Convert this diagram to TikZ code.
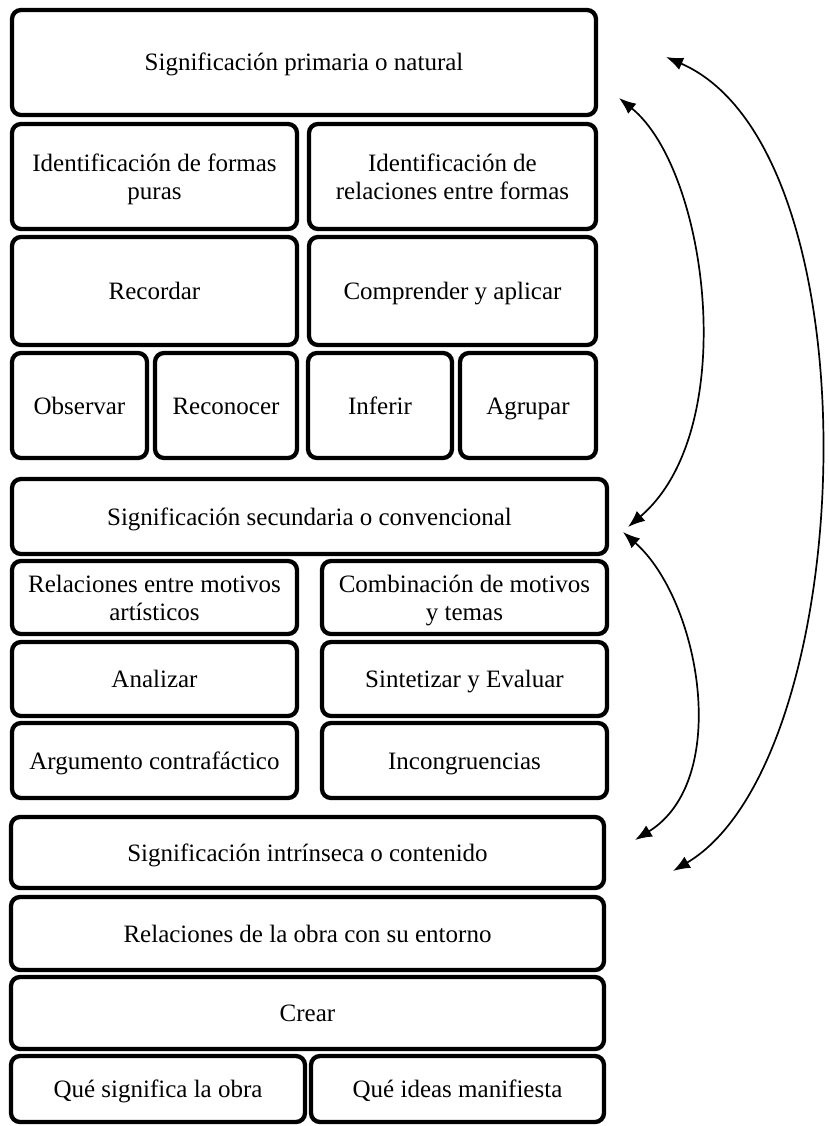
\documentclass[tikz,border=0pt]{standalone}
\usepackage{fontspec}
\setmainfont{Liberation Serif}
\usetikzlibrary{arrows.meta}
\tikzstyle{box}=[draw,line width=4.3pt,rounded corners=9pt,inner sep=0pt,align=center,text height=17.5pt,text depth=0.5pt,font=\fontsize{25}{28}\selectfont]
\tikzstyle{twobox}=[box,text height=45.5pt]
\tikzstyle{link}=[draw,line width=1.7pt,{Latex[length=17pt,width=13pt]}-{Latex[length=17pt,width=13pt]}]

\begin{document}
\begin{tikzpicture}[x=1pt,y=-1pt]
    \useasboundingbox (0,0) rectangle (828,1126);

    % one-line boxes
    \foreach \x/\y/\w/\h/\name/\txt in {304/62.5/584/105/prim/{Significación primaria o natural},
        154.5/291/285/108/recordar/{Recordar},
        452.5/291/287/108/comprender/{Comprender y aplicar},
        79.5/405.5/135/105/observar/{Observar},
        226/405.5/142/105/reconocer/{Reconocer},
        380/405.5/144/105/inferir/{Inferir},
        528/405.5/136/105/agrupar/{Agrupar},
        309.5/516.5/595/75/secund/{Significación secundaria o convencional},
        154.5/679/285/74/analizar/{Analizar},
        464.5/679/285/74/sintetizar/{Sintetizar y Evaluar},
        154.5/760.5/285/75/argumento/{Argumento contrafáctico},
        464.5/760.5/285/75/incongr/{Incongruencias},
        307.5/852.5/593/71/intrin/{Significación intrínseca o contenido},
        307.5/933.5/593/73/entorno/{Relaciones de la obra con su entorno},
        307.5/1013/593/72/crear/{Crear},
        158/1089/294/66/significa/{Qué significa la obra},
        457.5/1089/293/66/ideas/{Qué ideas manifiesta}}
        \node[box,minimum width=\w pt,minimum height=\h pt] (\name) at (\x,\y) {\txt};

    % two-line boxes
    \foreach \x/\y/\w/\h/\name/\txt in {154.5/176.5/285/105/formas/{Identificación de formas\\puras},
        452.5/176.5/287/105/relformas/{Identificación de\\relaciones entre formas},
        154.5/597.5/285/73/motivos/{Relaciones entre motivos\\artísticos},
        464.5/597.5/285/73/temas/{Combinación de motivos\\y temas}}
        \node[twobox,minimum width=\w pt,minimum height=\h pt] (\name) at (\x,\y) {\txt};

    % arrows on the right
    \coordinate (a1) at (666,57);
    \coordinate (a2) at (673,871);
    \coordinate (b1) at (619,98);
    \coordinate (b2) at (628,527);
    \coordinate (c1) at (623,532);
    \coordinate (c2) at (635,840);

    \draw[link] (a1) .. controls (880,150) and (860,760) .. (a2);
    \draw[link] (b1) .. controls (708,170) and (742,430) .. (b2);
    \draw[link] (c1) .. controls (700,600) and (732,780) .. (c2);

\end{tikzpicture}
\end{document}
